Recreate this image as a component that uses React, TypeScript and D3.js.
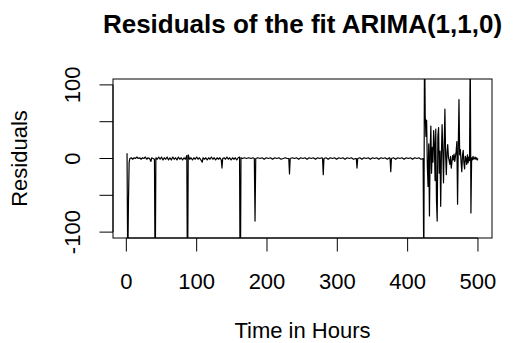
import React, { useEffect, useRef } from 'react';
import * as d3 from 'd3';

// Quiet part of the residual series (hours 1-422) as [hour, residual]
const quietResiduals: [number, number][] = [
  [1, 7], [2, -150], [3, -60], [4, -5], [5, 0], [7, 1], [9, -1], [11, 1], [13, 0], [15, 2], [17, 0], [19, 1],
  [21, -1], [23, 1], [25, 0], [27, 2], [29, -1], [31, 1], [33, 0], [35, -4], [36, 1], [38, 0], [40, -1],
  [41, -180], [42, 1], [44, -1], [46, 2], [48, -1], [50, 2], [52, -2], [54, 1], [56, -1], [58, 2], [60, -2],
  [62, 1], [64, -2], [66, 2], [68, -1], [70, 1], [72, -2], [74, 2], [76, -1], [78, 1], [80, -2], [82, 1],
  [84, -1], [86, 4], [87, -200], [88, 5], [90, -1], [92, 1], [94, -2], [96, 1], [98, -1], [100, 2], [102, -1],
  [104, 1], [106, -2], [108, -5], [109, 1], [111, -1], [113, 1], [115, -2], [117, 1], [119, -1], [121, 2],
  [123, -1], [125, 1], [127, -2], [129, 1], [131, -1], [133, 1], [135, -2], [136, -13], [137, 0], [139, 1],
  [141, -1], [143, 2], [145, -1], [147, 1], [149, -2], [151, 1], [153, -1], [155, 1], [157, -2], [159, 1],
  [161, 2], [162, -220], [163, 1], [165, 0], [168, 1], [171, 0], [174, 1], [177, 0], [180, 1], [182, 0],
  [183, -85], [184, 0], [187, 1], [190, 0], [193, 1], [196, -1], [199, 1], [202, 0], [205, 1], [208, -1],
  [211, 1], [214, 0], [217, 1], [220, -1], [223, 0], [226, 1], [229, 0], [231, 0], [232, -21], [233, 0],
  [236, 1], [239, 0], [242, 1], [245, -1], [248, 1], [251, 0], [254, 1], [257, -1], [260, 1], [263, 0],
  [266, 1], [269, -1], [272, 1], [275, 0], [278, 1], [279, 0], [280, -22], [281, 0], [284, 1], [287, -1],
  [290, 1], [293, 0], [296, 1], [299, -1], [302, 1], [305, 0], [308, 1], [311, -1], [314, 1], [317, 0],
  [320, 1], [323, -1], [326, 0], [327, 0], [328, -13], [329, 0], [332, 1], [335, -1], [338, 1], [341, 0],
  [344, 1], [347, -1], [350, 1], [353, 0], [356, 1], [359, -1], [362, 1], [365, 0], [368, 1], [371, -1],
  [374, 1], [375, 0], [376, -18], [377, 0], [380, 1], [383, -1], [386, 1], [389, 0], [392, 1], [395, -1],
  [398, 1], [401, 0], [404, 1], [407, -1], [410, 1], [413, 0], [416, 1], [419, -1], [422, 0],
];

// Noisy tail, one value per hour starting at hour 423
const tailStart = 423;
const tailResiduals = [
  -160, 170, 58, 30, 52, -10, -38, 20, -78, 10, 44, -20, 15, -5, 38, 20, -30, 40, -57, -85,
  30, 42, -20, 10, -65, 5, 46, 10, -33, 20, 67, 5, -22, 8, 19, 2, -3, -8, 3, -13,
  -5, 4, -2, 6, -4, 3, 10, 23, -62, 15, 80, 5, 12, -5, -18, 4, 11, -6, -14, 3,
  0, -8, 5, -6, 2, -3, 150, -74, 1, -2, 3, -1, 0, 2, -1, 1, -2, 0,
];

const xTicks = [0, 100, 200, 300, 400, 500];
const yTicks = [-100, -50, 0, 50, 100];
const yTickLabels = [-100, 0, 100];

const App = () => {
  const svgRef = useRef<SVGSVGElement | null>(null);
  const width = 514;
  const height = 343;

  useEffect(() => {
    d3.select(svgRef.current).selectAll('*').remove();
    const svg = d3.select(svgRef.current)
      .attr('width', width)
      .attr('height', height);

    const font = '"Liberation Sans", Arial, Helvetica, sans-serif';
    const plot = { left: 113, right: 492, top: 79, bottom: 238 };

    const data: [number, number][] = [
      ...quietResiduals,
      ...tailResiduals.map((v, i) => [tailStart + i, v] as [number, number]),
    ];

    // R style 4% extension of the x range, ylim = c(-100, 100)
    const xMin = 1, xMax = 500;
    const xPad = (xMax - xMin) * 0.04;
    const xScale = d3.scaleLinear()
      .domain([xMin - xPad, xMax + xPad])
      .range([plot.left, plot.right]);
    const yScale = d3.scaleLinear()
      .domain([-108, 108])
      .range([plot.bottom, plot.top]);

    svg.append('defs').append('clipPath')
      .attr('id', 'plot-clip')
      .append('rect')
      .attr('x', plot.left)
      .attr('y', plot.top)
      .attr('width', plot.right - plot.left)
      .attr('height', plot.bottom - plot.top);

    const line = d3.line<[number, number]>()
      .x(d => xScale(d[0]))
      .y(d => yScale(d[1]));

    svg.append('path')
      .datum(data)
      .attr('clip-path', 'url(#plot-clip)')
      .attr('fill', 'none')
      .attr('stroke', 'black')
      .attr('stroke-width', 1.2)
      .attr('stroke-linejoin', 'round')
      .attr('d', line);

    // Box
    svg.append('rect')
      .attr('x', plot.left)
      .attr('y', plot.top)
      .attr('width', plot.right - plot.left)
      .attr('height', plot.bottom - plot.top)
      .attr('fill', 'none')
      .attr('stroke', 'black')
      .attr('stroke-width', 1);

    // x axis
    const tickLen = 13.5;
    const gx = svg.append('g');
    gx.append('line')
      .attr('x1', xScale(xTicks[0]))
      .attr('x2', xScale(xTicks[xTicks.length - 1]))
      .attr('y1', plot.bottom)
      .attr('y2', plot.bottom)
      .attr('stroke', 'black');
    xTicks.forEach(t => {
      gx.append('line')
        .attr('x1', xScale(t))
        .attr('x2', xScale(t))
        .attr('y1', plot.bottom)
        .attr('y2', plot.bottom + tickLen)
        .attr('stroke', 'black');
      gx.append('text')
        .attr('x', xScale(t))
        .attr('y', 289)
        .attr('text-anchor', 'middle')
        .style('font-family', font)
        .style('font-size', '22px')
        .text(t);
    });

    // y axis
    const gy = svg.append('g');
    gy.append('line')
      .attr('x1', plot.left)
      .attr('x2', plot.left)
      .attr('y1', yScale(yTicks[0]))
      .attr('y2', yScale(yTicks[yTicks.length - 1]))
      .attr('stroke', 'black');
    yTicks.forEach(t => {
      gy.append('line')
        .attr('x1', plot.left - tickLen)
        .attr('x2', plot.left)
        .attr('y1', yScale(t))
        .attr('y2', yScale(t))
        .attr('stroke', 'black');
    });
    yTickLabels.forEach(t => {
      gy.append('text')
        .attr('transform', `translate(80,${yScale(t)}) rotate(-90)`)
        .attr('text-anchor', 'middle')
        .style('font-family', font)
        .style('font-size', '22px')
        .text(t);
    });

    // Axis titles
    svg.append('text')
      .attr('x', (plot.left + plot.right) / 2)
      .attr('y', 338)
      .attr('text-anchor', 'middle')
      .style('font-family', font)
      .style('font-size', '22px')
      .text('Time in Hours');

    svg.append('text')
      .attr('transform', `translate(27,${(plot.top + plot.bottom) / 2}) rotate(-90)`)
      .attr('text-anchor', 'middle')
      .style('font-family', font)
      .style('font-size', '22px')
      .text('Residuals');

    // Title
    svg.append('text')
      .attr('x', (plot.left + plot.right) / 2)
      .attr('y', 33)
      .attr('text-anchor', 'middle')
      .style('font-family', font)
      .style('font-size', '26px')
      .style('font-weight', 'bold')
      .text('Residuals of the fit ARIMA(1,1,0)');
  }, []);

  return (
    <div style={{ position: 'absolute', left: 0, top: 0, background: 'white' }}>
      <svg ref={svgRef} style={{ display: 'block' }}></svg>
    </div>
  );
};

export default App;
